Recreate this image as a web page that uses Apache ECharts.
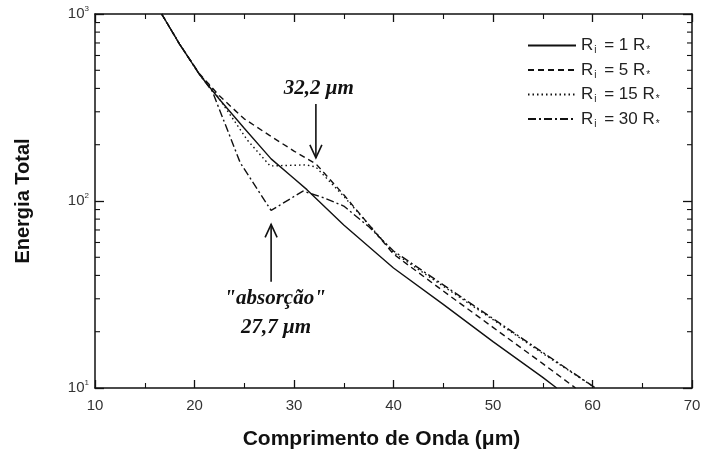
<!DOCTYPE html>
<html>
<head>
<meta charset="utf-8">
<script src="https://cdn.jsdelivr.net/npm/echarts@6/dist/echarts.min.js"></script>
<style>
  html, body { margin: 0; padding: 0; background: #fff; }
  #c { width: 701px; height: 451px; }
</style>
</head>
<body>
<div id="c"></div>
<script>
// Wavelength (μm) and total energy for each inner radius R_i
const wlR1  = [16.7, 18.5, 20.5, 22.5, 25, 27.7, 30, 31.3, 35, 40, 45, 50, 55, 56.4];
const enR1  = [1000, 690, 475, 350, 245, 168, 132, 115, 74.5, 43.8, 28, 17.7, 11.4, 10];

const wlR5  = [16.7, 18.5, 20.5, 22.5, 25, 27.5, 30, 32.2, 35, 40, 45, 50, 55, 58.3];
const enR5  = [1000, 690, 480, 365, 275, 225, 185, 158, 108, 52, 33, 21.1, 13.5, 10];

const wlR15 = [16.7, 18.5, 20.5, 21.9, 25.3, 27.6, 31.2, 32.2, 35, 40, 45, 50, 55, 60.3];
const enR15 = [1000, 690, 475, 392, 212, 154, 156, 152, 106, 53, 35, 23.2, 15.3, 10];

const wlR30 = [16.7, 18.5, 20.5, 21.8, 24.6, 27.7, 30.9, 33, 35, 37.5, 40, 45, 50, 55, 60.3];
const enR30 = [1000, 690, 475, 385, 160, 89, 113, 104, 94, 73, 54, 35.6, 23.5, 15.5, 10];

const yDecades = [10, 100, 1000];

const seriesNames = ['R1', 'R5', 'R15', 'R30'];
const legendLabels = {
  R1:  'R{sub|i} = 1 R{sub|*}',
  R5:  'R{sub|i} = 5 R{sub|*}',
  R15: 'R{sub|i} = 15 R{sub|*}',
  R30: 'R{sub|i} = 30 R{sub|*}'
};

function pairs(xs, ys) { return xs.map((x, i) => [x, ys[i]]); }

const ink = '#111';
const lineW = 1.4;

function mkSeries(name, xs, ys, type) {
  return {
    name: name,
    type: 'line',
    data: pairs(xs, ys),
    showSymbol: false,
    symbol: 'none',
    smooth: false,
    clip: true,
    lineStyle: { color: ink, width: lineW, type: type },
    itemStyle: { color: ink },
    emphasis: { disabled: true },
    z: 3
  };
}

const supRich = {
  sup: { fontSize: 8, verticalAlign: 'top', padding: [0, 0, 10, 0], color: '#333', fontFamily: 'Liberation Sans' }
};

const option = {
  backgroundColor: '#fff',
  animation: false,
  grid: { left: 95, right: 9, top: 14, bottom: 63, containLabel: false, outerBoundsMode: 'none' },
  legend: {
    orient: 'vertical',
    left: 522,
    top: 32,
    itemWidth: 48,
    itemHeight: 14,
    itemGap: 6,
    data: seriesNames,
    formatter: (n) => legendLabels[n],
    itemStyle: { opacity: 0 },
    textStyle: {
      fontFamily: 'Liberation Sans',
      fontSize: 17,
      color: '#222',
      rich: {
        sub: { fontSize: 10, verticalAlign: 'bottom', padding: [10, 3, 0, 1], color: '#222', fontFamily: 'Liberation Sans' }
      }
    }
  },
  xAxis: [{
    type: 'value',
    min: 10, max: 70, interval: 10,
    name: 'Comprimento de Onda (μm)',
    nameLocation: 'middle',
    nameGap: 41,
    nameTextStyle: { fontFamily: 'Liberation Sans', fontWeight: 'bold', fontSize: 21, color: '#111', padding: [0, 24, 0, 0] },
    axisLine: { show: true, lineStyle: { color: ink, width: 1.5 } },
    axisTick: { show: true, inside: true, length: 8, lineStyle: { color: ink, width: 1.3 } },
    minorTick: { show: true, splitNumber: 2, length: 5, lineStyle: { color: ink, width: 1.1 } },
    axisLabel: { fontFamily: 'Liberation Sans', fontSize: 15, color: '#333', margin: 10 },
    splitLine: { show: false }
  }, {
    type: 'value',
    position: 'top',
    min: 10, max: 70, interval: 10,
    axisLine: { show: true, lineStyle: { color: ink, width: 1.5 } },
    axisTick: { show: true, inside: true, length: 8, lineStyle: { color: ink, width: 1.3 } },
    minorTick: { show: true, splitNumber: 2, length: 5, lineStyle: { color: ink, width: 1.1 } },
    axisLabel: { show: false },
    splitLine: { show: false }
  }],
  yAxis: [{
    type: 'log',
    logBase: 10,
    min: 10, max: 1000,
    name: 'Energia Total',
    nameLocation: 'middle',
    nameGap: 62,
    nameRotate: 90,
    nameTextStyle: { fontFamily: 'Liberation Sans', fontWeight: 'bold', fontSize: 20, color: '#111' },
    axisLine: { show: true, lineStyle: { color: ink, width: 1.5 } },
    axisTick: { show: true, inside: true, length: 9, lineStyle: { color: ink, width: 1.3 } },
    axisLabel: {
      fontFamily: 'Liberation Sans', fontSize: 15, color: '#333', margin: 6,
      formatter: (v) => '10{sup|' + Math.round(Math.log10(v)) + '}',
      rich: supRich
    },
    splitLine: { show: false }
  }, {
    type: 'log',
    logBase: 10,
    min: 10, max: 1000,
    position: 'right',
    axisLine: { show: true, lineStyle: { color: ink, width: 1.5 } },
    axisTick: { show: true, inside: true, length: 9, lineStyle: { color: ink, width: 1.3 } },
    axisLabel: { show: false },
    splitLine: { show: false }
  }],
  series: [
    mkSeries('R1', wlR1, enR1, 'solid'),
    mkSeries('R5', wlR5, enR5, [6, 4]),
    mkSeries('R15', wlR15, enR15, [1.5, 3]),
    mkSeries('R30', wlR30, enR30, [8, 3, 2, 3])
  ]
};

const chart = echarts.init(document.getElementById('c'), null, { renderer: 'canvas' });
chart.setOption(option);

// Annotations and log minor ticks, placed through the axis scales
function toPx(x, y) { return chart.convertToPixel({ xAxisIndex: 0, yAxisIndex: 0 }, [x, y]); }

const annoFont = 'italic bold 21px "Liberation Serif"';
const peakWl = 32.2, peakTop = 330, peakTip = 170, peakLabelE = 400;
const absWl = 27.7, absTip = 75, absBottom = 37, absLabelE1 = 30, absLabelE2 = 21;

function arrow(x, yFrom, yTo) {
  const a = toPx(x, yFrom), b = toPx(x, yTo);
  const dir = b[1] > a[1] ? -1 : 1;
  return [
    { type: 'line', shape: { x1: a[0], y1: a[1], x2: b[0], y2: b[1] }, style: { stroke: ink, lineWidth: 1.6 }, z: 10 },
    { type: 'polyline', shape: { points: [[b[0] - 6, b[1] + dir * 13], [b[0], b[1]], [b[0] + 6, b[1] + dir * 13]] },
      style: { stroke: ink, lineWidth: 1.6, fill: null }, z: 10 }
  ];
}

function label(text, x, y) {
  const p = toPx(x, y);
  return { type: 'text', x: p[0], y: p[1], style: { text: text, font: annoFont, fill: ink, align: 'center', verticalAlign: 'middle' }, z: 10 };
}

const graphics = [];
graphics.push(...arrow(peakWl, peakTop, peakTip));
graphics.push(label('32,2 μm', peakWl + 0.3, peakLabelE));
graphics.push(...arrow(absWl, absBottom, absTip));
graphics.push(label('"absorção"', absWl + 0.4, absLabelE1));
graphics.push(label('27,7 μm', absWl + 0.5, absLabelE2));

// minor ticks 2..9 on both vertical sides
const gridRect = { l: toPx(10, 10)[0], r: toPx(70, 10)[0] };
for (let d = 0; d < yDecades.length - 1; d++) {
  for (let m = 2; m <= 9; m++) {
    const v = yDecades[d] * m;
    const y = toPx(10, v)[1];
    graphics.push({ type: 'line', shape: { x1: gridRect.l, y1: y, x2: gridRect.l + 5, y2: y }, style: { stroke: ink, lineWidth: 1.1 }, z: 5 });
    graphics.push({ type: 'line', shape: { x1: gridRect.r, y1: y, x2: gridRect.r - 5, y2: y }, style: { stroke: ink, lineWidth: 1.1 }, z: 5 });
  }
}

chart.setOption({ graphic: graphics });
</script>
</body>
</html>
